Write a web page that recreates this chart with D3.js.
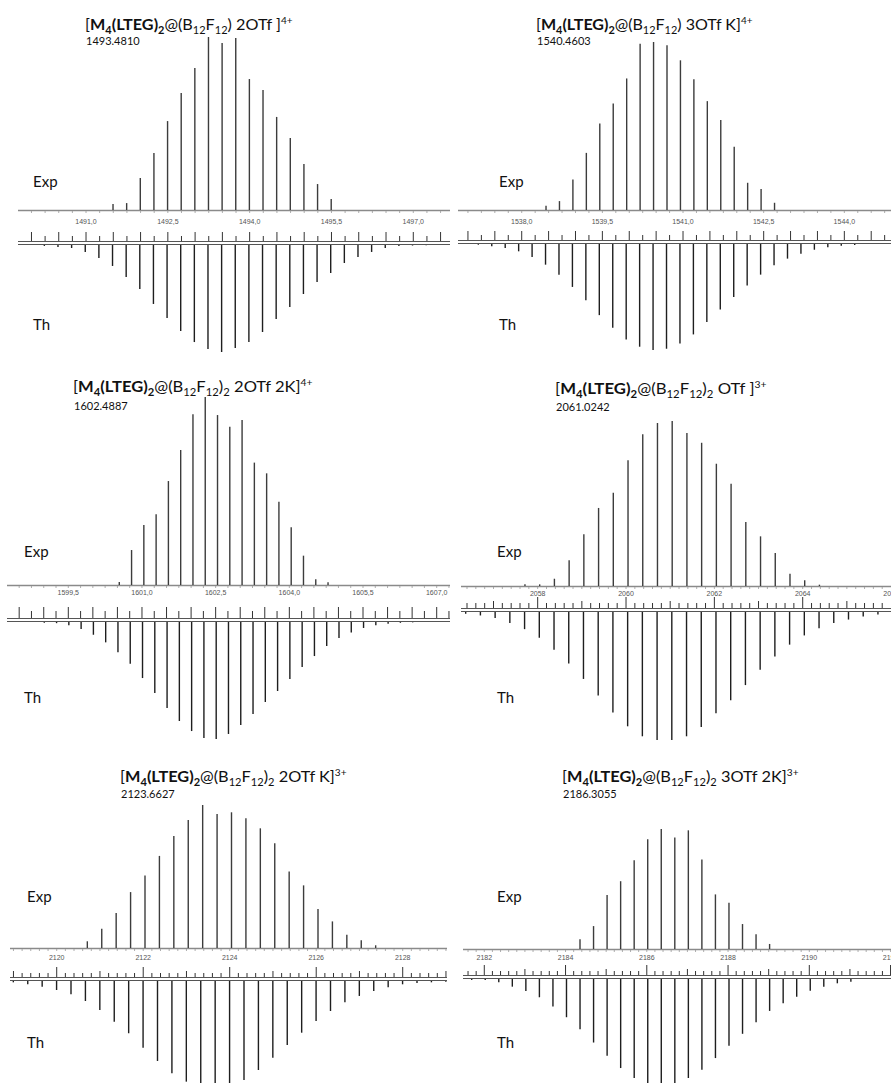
<!DOCTYPE html>
<html><head><meta charset="utf-8">
<script src="https://cdn.jsdelivr.net/npm/d3@7"></script>
<style>
body{margin:0;background:#fff}
svg{display:block}
.lbl{font-family:Lato,"Open Sans",sans-serif;fill:#111}
.tick{font-family:"Liberation Sans",Arial,sans-serif;fill:#555}
</style>
</head><body>
<svg id="chart" width="891" height="1083"></svg>
<script>
// ---------------- DATA ----------------
const titleA = [["[","n"],["M","b"],["4","bs"],["(LTEG)","b"],["2","bs"],["@(B","n"],["12","s"],["F","n"],["12","s"],[") 2OTf ]","n"],["4+","sup"]];
const titleB = [["[","n"],["M","b"],["4","bs"],["(LTEG)","b"],["2","bs"],["@(B","n"],["12","s"],["F","n"],["12","s"],[") 3OTf K]","n"],["4+","sup"]];
const titleC = [["[","n"],["M","b"],["4","bs"],["(LTEG)","b"],["2","bs"],["@(B","n"],["12","s"],["F","n"],["12","s"],[")","n"],["2","s"],[" 2OTf 2K]","n"],["4+","sup"]];
const titleD = [["[","n"],["M","b"],["4","bs"],["(LTEG)","b"],["2","bs"],["@(B","n"],["12","s"],["F","n"],["12","s"],[")","n"],["2","s"],[" OTf ]","n"],["3+","sup"]];
const titleE = [["[","n"],["M","b"],["4","bs"],["(LTEG)","b"],["2","bs"],["@(B","n"],["12","s"],["F","n"],["12","s"],[")","n"],["2","s"],[" 2OTf K]","n"],["3+","sup"]];
const titleF = [["[","n"],["M","b"],["4","bs"],["(LTEG)","b"],["2","bs"],["@(B","n"],["12","s"],["F","n"],["12","s"],[")","n"],["2","s"],[" 3OTf 2K]","n"],["3+","sup"]];

const massLabels = ["1493.4810","1540.4603","1602.4887","2061.0242","2123.6627","2186.3055"];
const charges = [4,4,4,3,3,3];

const domainA = [1489.753, 1497.673];
const domainB = [1536.815, 1544.868];
const domainC = [1598.252, 1607.271];
const domainD = [2056.264, 2065.999];
const domainE = [2118.920, 2129.024];
const domainF = [2181.476, 2192.011];

const ticksA = [1491.0, 1492.5, 1494.0, 1495.5, 1497.0];
const tickLabelsA = ["1491,0","1492,5","1494,0","1495,5","1497,0"];
const ticksB = [1538.0, 1539.5, 1541.0, 1542.5, 1544.0];
const tickLabelsB = ["1538,0","1539,5","1541,0","1542,5","1544,0"];
const ticksC = [1599.5, 1601.0, 1602.5, 1604.0, 1605.5, 1607.0];
const tickLabelsC = ["1599,5","1601,0","1602,5","1604,0","1605,5","1607,0"];
const ticksD = [2058, 2060, 2062, 2064, 2066];
const tickLabelsD = ["2058","2060","2062","2064","2066"];
const ticksE = [2120, 2122, 2124, 2126, 2128];
const tickLabelsE = ["2120","2122","2124","2126","2128"];
const ticksF = [2182, 2184, 2186, 2188, 2190, 2192];
const tickLabelsF = ["2182","2184","2186","2188","2190","2192"];

// experimental isotope pattern (relative intensity %), first peak m/z
const expFirstA = 1491.495;
const expA = [3.5,4.0,18.5,32.9,51.4,67.6,82.1,100,96.5,99.4,75.7,69.4,53.8,41.6,26.6,15.0,6.4];
const expFirstB = 1538.452;
const expB = [2.6,5.3,18.2,34.0,51.5,63.4,78.3,99.0,100,98.0,89.1,77.8,64.8,53.5,37.6,16.2,12.5,4.3];
const expFirstC = 1600.538;
const expC = [1.6,18.6,31.9,37.6,55.3,71.8,90.8,100,90.4,84.2,87.8,65.1,59.4,44.3,30.7,15.6,3.0,1.4];
const expFirstD = 2057.712;
const expD = [1.0,1.0,4.4,15.6,31.3,47.3,56.5,76.2,91.9,98.8,100,92.7,86.8,74.1,62.0,38.8,30.1,20.0,7.5,3.5,0.8];
const expFirstE = 2120.708;
const expE = [4.7,13.5,24.4,39.1,50.7,64.4,78.4,89.5,100,93.7,94.9,90.7,83.7,73.3,53.5,43.8,27.2,18.6,9.3,5.4,1.9];
const expFirstF = 2184.356;
const expF = [8.1,19.1,44.9,56.5,74.0,91.4,100,92.9,98.9,74.6,45.5,38.5,20.8,12.2,4.2];

// theoretical isotope pattern (relative intensity %), first peak m/z
const thFirstA = 1490.236;
const thA = [0.9,1.9,2.8,6.5,12.1,19.6,29.9,41.1,55.1,68.2,80.4,90.7,97.2,100,96.3,90.7,81.3,69.2,57.9,45.8,34.6,26.2,16.8,11.2,6.5,2.8,0.9,0.5,0.3];
const thFirstB = 1537.193;
const thB = [0.7,2.2,3.8,6.9,12.2,19.5,28.9,40.5,53.0,67.1,79.0,90.0,96.9,100,98.8,93.8,85.3,73.7,61.8,49.9,39.2,28.9,20.0,13.8,9.1,5.4,3.1,1.6,0.9];
const thFirstC = 1599.011;
const thC = [0.6,1.0,2.8,6.0,10.9,17.4,25.9,35.6,47.9,60.7,73.5,84.6,93.2,99.1,100,95.7,88.0,78.6,68.4,59.0,48.7,38.5,29.1,20.5,13.7,9.0,5.1,2.8,1.5,0.7,0.3];
const thFirstD = 2056.370;
const thD = [1.4,2.7,4.6,8.6,13.4,20.1,29.5,40.2,52.3,65.2,78.6,89.3,97.1,100,100,97.1,89.9,79.1,68.9,57.1,45.1,34.8,25.5,18.3,12.6,8.6,5.9,3.5,1.9];
const thFirstE = 2118.997;
const thE = [1.2,3.0,5.2,8.2,12.1,18.2,26.4,37.0,47.5,60.6,72.7,83.9,91.5,98.2,100,96.4,90.0,80.9,69.7,58.2,47.0,36.4,27.3,19.4,13.6,9.1,5.7,3.0,1.8,1.2,0.6];
const thFirstF = 2181.690;
const thF = [0.9,0.9,3.1,7.3,11.4,17.4,26.3,36.4,47.8,60.5,73.1,84.8,94.3,99.1,100,99.1,94.3,86.4,75.3,63.6,52.2,41.1,30.4,23.1,16.8,11.1,7.3,4.1,2.6];

// theoretical-axis tick steps: [minor step, medium step, major step]
const thTickStepsA = [0.25, 0.5, 0.5];
const thTickStepsD = [0.2, 1, 2];

// ---------------- LAYOUT ----------------
const layouts = [
 {x0:18,x1:450,titleX:85,titleY:30,titleW:208,massY:45,lblX:33,expLblY:187,y0:210,expH:173,tickLblY:224,thY:241,thH:107,thLblY:330,tk:[5,5,9]},
 {x0:458,x1:891,titleX:536,titleY:30,titleW:217,massY:45,lblX:499,expLblY:187,y0:210,expH:168,tickLblY:224,thY:240,thH:106,thLblY:330,tk:[5,5,9]},
 {x0:7,x1:450,titleX:73,titleY:392,titleW:240,massY:410,lblX:24,expLblY:557,y0:585,expH:188,tickLblY:595,thY:618,thH:117,thLblY:703,tk:[7,7,11]},
 {x0:461,x1:891,titleX:555,titleY:394,titleW:212,massY:411,lblX:497,expLblY:557,y0:586,expH:165,tickLblY:596,thY:608,thH:128,thLblY:703,tk:[5,7,11]},
 {x0:10,x1:447,titleX:120,titleY:782,titleW:227,massY:798,lblX:27,expLblY:902,y0:948,expH:143,tickLblY:960,thY:977,thH:110,thLblY:1048,tk:[4,6,10]},
 {x0:463,x1:891,titleX:562,titleY:782,titleW:237,massY:798,lblX:497,expLblY:902,y0:949,expH:120,tickLblY:960,thY:975,thH:105,thLblY:1048,tk:[4,6,10]}
];

const panels = [
 {title:titleA,domain:domainA,ticks:ticksA,tickLabels:tickLabelsA,expFirst:expFirstA,exp:expA,thFirst:thFirstA,th:thA,steps:thTickStepsA},
 {title:titleB,domain:domainB,ticks:ticksB,tickLabels:tickLabelsB,expFirst:expFirstB,exp:expB,thFirst:thFirstB,th:thB,steps:thTickStepsA},
 {title:titleC,domain:domainC,ticks:ticksC,tickLabels:tickLabelsC,expFirst:expFirstC,exp:expC,thFirst:thFirstC,th:thC,steps:thTickStepsA},
 {title:titleD,domain:domainD,ticks:ticksD,tickLabels:tickLabelsD,expFirst:expFirstD,exp:expD,thFirst:thFirstD,th:thD,steps:thTickStepsD},
 {title:titleE,domain:domainE,ticks:ticksE,tickLabels:tickLabelsE,expFirst:expFirstE,exp:expE,thFirst:thFirstE,th:thE,steps:thTickStepsD},
 {title:titleF,domain:domainF,ticks:ticksF,tickLabels:tickLabelsF,expFirst:expFirstF,exp:expF,thFirst:thFirstF,th:thF,steps:thTickStepsD}
];

const svg = d3.select("#chart");

function drawTitle(g, parts, L){
  const t = g.append("text").attr("class","lbl").attr("x",0).attr("y",0).style("font-size","16px");
  let cur = 0;
  parts.forEach(([s,st])=>{
    let target = 0, fs = "1em", fw = "normal";
    if(st==="b"){fw="bold";}
    if(st==="bs"){fw="bold";fs="0.68em";target=4;}
    if(st==="s"){fs="0.68em";target=4;}
    if(st==="sup"){fs="0.62em";target=-6;}
    t.append("tspan").attr("dy",target-cur).style("font-size",fs).style("font-weight",fw).text(s);
    cur = target;
  });
  const w = t.node().getBBox().width;
  const sx = L.titleW/w;
  t.attr("transform",`translate(${L.titleX},${L.titleY}) scale(${sx.toFixed(4)},1)`);
}

panels.forEach((p,i)=>{
  const L = layouts[i];
  const g = svg.append("g");
  const x = d3.scaleLinear().domain(p.domain).range([L.x0,L.x1]);
  const yExp = d3.scaleLinear().domain([0,100]).range([0,L.expH]);
  const yTh = d3.scaleLinear().domain([0,100]).range([0,L.thH]);
  const sp = 1/charges[i];

  drawTitle(g,p.title,L);
  g.append("text").attr("class","lbl").attr("x",L.titleX+1).attr("y",L.massY).style("font-size","11px").text(massLabels[i]);
  g.append("text").attr("class","lbl").attr("x",L.lblX).attr("y",L.expLblY).style("font-size","15px").text("Exp");
  g.append("text").attr("class","lbl").attr("x",L.lblX).attr("y",L.thLblY).style("font-size","15px").text("Th");

  // exp baseline
  g.append("line").attr("x1",L.x0).attr("x2",L.x1).attr("y1",L.y0+0.5).attr("y2",L.y0+0.5)
   .attr("stroke","#8a8a8a").attr("stroke-width",1.3);

  // tick grid (shared by exp baseline small ticks and Th axis)
  const [st, med, maj] = p.steps;
  const n0 = Math.ceil(p.domain[0]/st+1e-6), n1 = Math.floor(p.domain[1]/st-1e-6);
  const tv = d3.range(n0,n1+1).map(n=>n*st);
  const isMult = (v,m)=>Math.abs(v/m-Math.round(v/m))<1e-6;
  const tlen = v=> isMult(v,maj)?L.tk[2]:(isMult(v,med)?L.tk[1]:L.tk[0]);

  // exp axis small ticks + labels
  g.append("g").selectAll("line").data(tv).join("line")
   .attr("x1",d=>x(d)).attr("x2",d=>x(d)).attr("y1",L.y0+1).attr("y2",L.y0+3)
   .attr("stroke","#999").attr("stroke-width",0.8);
  g.append("g").selectAll("text").data(p.ticks).join("text").attr("class","tick")
   .attr("x",d=>x(d)).attr("y",L.tickLblY).attr("text-anchor","middle").style("font-size","7px")
   .text((d,k)=>p.tickLabels[k]);

  // exp peaks
  g.append("g").selectAll("line").data(p.exp).join("line")
   .attr("x1",(d,k)=>x(p.expFirst+k*sp)).attr("x2",(d,k)=>x(p.expFirst+k*sp))
   .attr("y1",L.y0).attr("y2",d=>L.y0-yExp(d))
   .attr("stroke","#3c3c3c").attr("stroke-width",1.4);

  // Th axis: double line + ticks
  g.append("line").attr("x1",L.x0).attr("x2",L.x1).attr("y1",L.thY+0.5).attr("y2",L.thY+0.5).attr("stroke","#555").attr("stroke-width",1);
  g.append("line").attr("x1",L.x0).attr("x2",L.x1).attr("y1",L.thY+3.5).attr("y2",L.thY+3.5).attr("stroke","#555").attr("stroke-width",1);
  g.append("g").selectAll("line").data(tv).join("line")
   .attr("x1",d=>x(d)).attr("x2",d=>x(d)).attr("y1",L.thY).attr("y2",d=>L.thY-tlen(d))
   .attr("stroke","#333").attr("stroke-width",1);

  // Th peaks
  g.append("g").selectAll("line").data(p.th).join("line")
   .attr("x1",(d,k)=>x(p.thFirst+k*sp)).attr("x2",(d,k)=>x(p.thFirst+k*sp))
   .attr("y1",L.thY+4).attr("y2",d=>L.thY+4+yTh(d))
   .attr("stroke","#1e1e1e").attr("stroke-width",1.4);
});
</script>
</body></html>
